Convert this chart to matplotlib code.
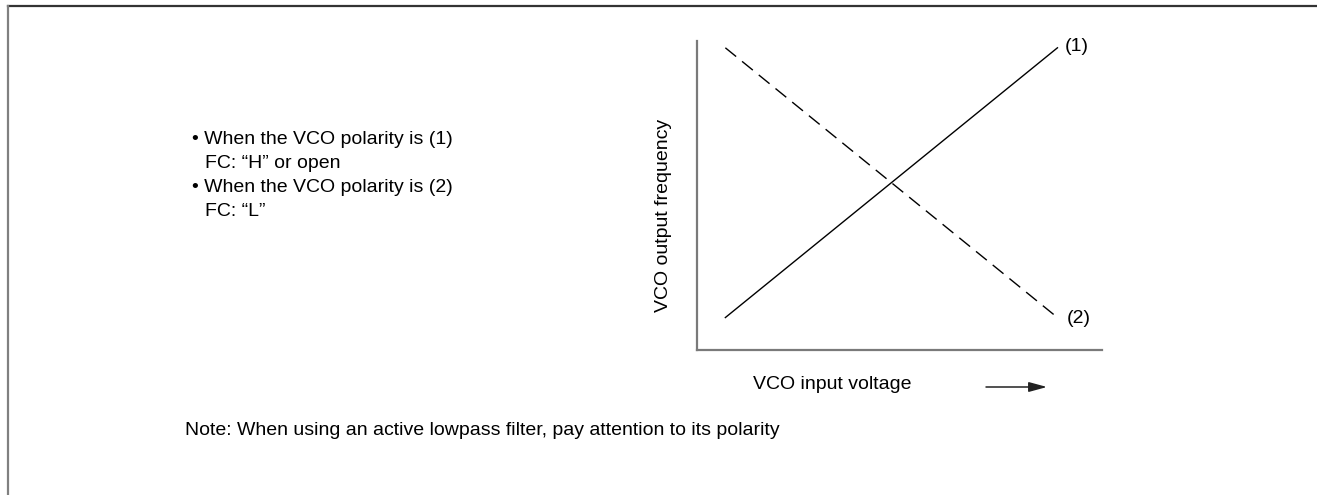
import matplotlib
matplotlib.use("Agg")
import matplotlib.pyplot as plt
from matplotlib.lines import Line2D

plt.rcParams['font.family'] = ['Liberation Sans', 'DejaVu Sans']

# data (normalised 0..1 on both axes)
voltage = [0.07, 0.89]
freq_pol1 = [0.105, 0.978]   # (1) rising
freq_pol2 = [0.978, 0.105]   # (2) falling
curve_labels = ['(1)', '(2)']

notes = ['\u2022 When the VCO polarity is (1)',
         'FC: \u201cH\u201d or open',
         '\u2022 When the VCO polarity is (2)',
         'FC: \u201cL\u201d']
footnote = 'Note: When using an active lowpass filter, pay attention to its polarity'

W, H = 1317, 495
fig = plt.figure(figsize=(W / 100, H / 100), dpi=100)

# overlay axes in pixel units for frame and free text
ov = fig.add_axes([0, 0, 1, 1])
ov.set_xlim(0, W)
ov.set_ylim(H, 0)
ov.axis('off')

# page frame (top and left only)
fig.add_artist(Line2D([8 / W, 1.0], [1 - 5.5 / H, 1 - 5.5 / H], color='#333333', lw=1.6))
fig.add_artist(Line2D([8 / W, 8 / W], [0, 1 - 5.5 / H], color='#808080', lw=1.6))

fs = 14
# bullet text block
ov.text(192, 144, notes[0], fontsize=fs, va='baseline', ha='left')
ov.text(205, 168, notes[1], fontsize=fs, va='baseline', ha='left')
ov.text(192, 192, notes[2], fontsize=fs, va='baseline', ha='left')
ov.text(205, 216, notes[3], fontsize=fs, va='baseline', ha='left')
ov.text(185, 435, footnote, fontsize=fs, va='baseline', ha='left')

# main graph
ax = fig.add_axes([697 / W, 1 - 350 / H, 405 / W, 309 / H])
ax.set_xlim(0, 1)
ax.set_ylim(0, 1)
ax.plot(voltage, freq_pol1, color='black', lw=1.0)
ax.plot(voltage, freq_pol2, color='black', lw=1.0, linestyle=(0, (10, 5.5)))
ax.text(voltage[1] + 0.017, freq_pol1[1] + 0.005, curve_labels[0], fontsize=fs, va='center', ha='left')
ax.text(voltage[1] + 0.022, freq_pol2[1] - 0.002, curve_labels[1], fontsize=fs, va='center', ha='left')
for s in ['top', 'right']:
    ax.spines[s].set_visible(False)
for s in ['left', 'bottom']:
    ax.spines[s].set_color('#7a7a7a')
    ax.spines[s].set_linewidth(1.6)
ax.set_xticks([])
ax.set_yticks([])
ax.patch.set_alpha(0)

# axis titles
ov.text(753, 389, 'VCO input voltage', fontsize=fs, va='baseline', ha='left')
ov.text(663, 215, 'VCO output frequency', fontsize=fs, rotation=90, va='center', ha='center')
ov.annotate('', xy=(1047, 387), xytext=(986, 387),
            arrowprops=dict(arrowstyle='-|>,head_length=1.1,head_width=0.3',
                            color='#222222', lw=1.1, mutation_scale=10,
                            shrinkA=0, shrinkB=0))

fig.savefig('out.png', dpi=100)
